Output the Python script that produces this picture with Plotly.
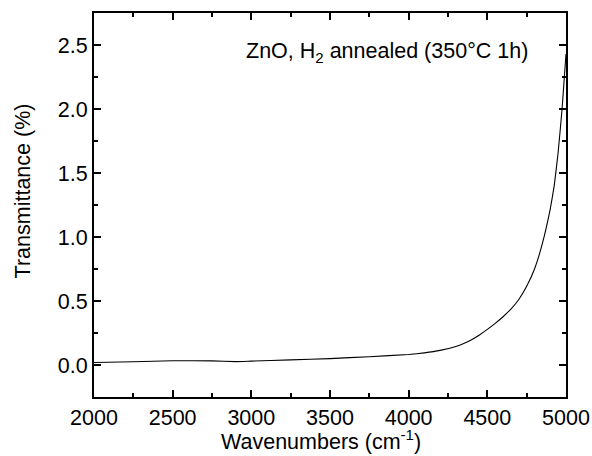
import plotly.graph_objects as go

wavenumber = [2000, 2250, 2500, 2750, 2900, 3000, 3250, 3500, 3750, 4000, 4100, 4200,
              4300, 4350, 4400, 4450, 4500, 4550, 4600, 4650, 4700, 4750, 4800, 4850,
              4900, 4925, 4950, 4975, 5000]
transmittance = [0.02, 0.025, 0.033, 0.032, 0.026, 0.03, 0.04, 0.05, 0.065, 0.082, 0.095, 0.114,
                 0.145, 0.168, 0.198, 0.235, 0.278, 0.325, 0.377, 0.437, 0.512, 0.615, 0.75, 0.95,
                 1.22, 1.40, 1.66, 2.0, 2.43]

x_ticks = [2000, 2500, 3000, 3500, 4000, 4500, 5000]
y_ticks = [0.0, 0.5, 1.0, 1.5, 2.0, 2.5]

fig = go.Figure()
fig.add_trace(go.Scatter(x=wavenumber, y=transmittance, mode="lines",
                         line=dict(color="black", width=1.1, shape="spline", smoothing=0.3),
                         showlegend=False))

font = dict(family="Liberation Sans, Arial, sans-serif", size=21.5, color="black")
axis_common = dict(showline=True, linecolor="black", linewidth=2, mirror="allticks",
                   ticks="inside", ticklen=7, tickwidth=1.5, tickcolor="black",
                   showgrid=False, zeroline=False, tickfont=font, automargin=False)

fig.update_xaxes(range=[2000, 5000], tickvals=x_ticks, ticktext=[str(v) for v in x_ticks],
                 minor=dict(ticks="inside", ticklen=4, tickwidth=1.5, tickcolor="black", dtick=250,
                            showgrid=False),
                 **axis_common)
fig.update_yaxes(range=[-0.25, 2.75], tickvals=y_ticks, ticktext=[f"{v:.1f}" for v in y_ticks],
                 minor=dict(ticks="inside", ticklen=4, tickwidth=1.5, tickcolor="black", dtick=0.25,
                            tick0=0, showgrid=False),
                 **axis_common)

# axis titles
fig.add_annotation(x=0.481, y=-0.112, xref="paper", yref="paper", xanchor="center", yanchor="middle",
                   text="Wavenumbers (cm<sup>-1</sup>)", showarrow=False, font=font)
fig.add_annotation(x=-0.150, y=0.536, xref="paper", yref="paper", xanchor="center", yanchor="middle",
                   text="Transmittance (%)", textangle=-90, showarrow=False, font=font)

fig.add_annotation(x=0.924, y=0.896, xref="paper", yref="paper", xanchor="right", yanchor="middle",
                   text="ZnO, H<sub>2</sub> annealed (350°C 1h)", showarrow=False, font=font)

fig.update_layout(width=592, height=456, margin=dict(l=94, r=26, t=13, b=59),
                  plot_bgcolor="white", paper_bgcolor="white", font=font)

fig.write_html("out.html")
